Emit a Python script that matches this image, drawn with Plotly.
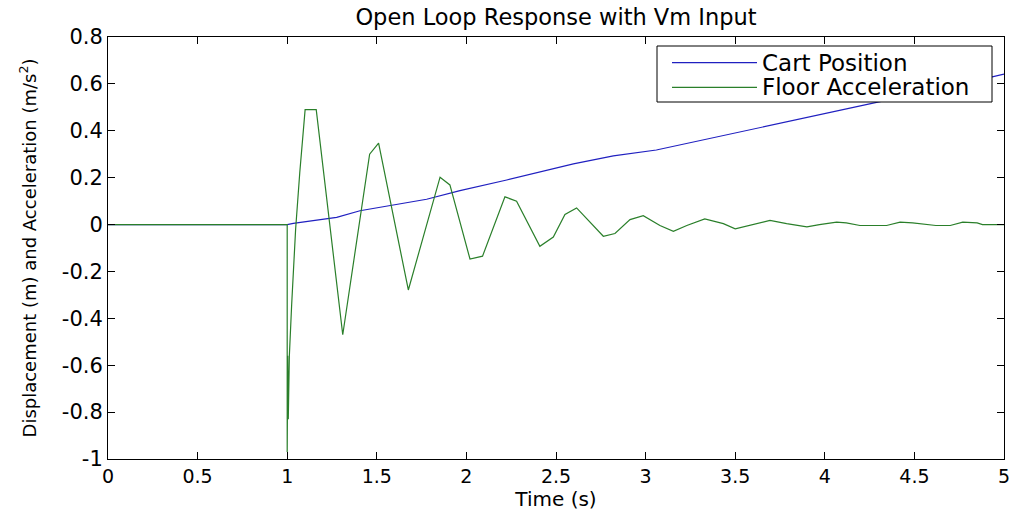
import plotly.graph_objects as go

# Simulation output: cart position (m) and floor acceleration (m/s^2)
time_pos = [0.0, 1.0, 1.034, 1.276, 1.406, 1.592, 1.778, 1.964, 2.225, 2.597,
            2.82, 3.06, 3.5, 4.085, 4.308, 4.94, 5.0]
cart_position = [0.0, 0.0, 0.005, 0.031, 0.059, 0.084, 0.108, 0.145, 0.19, 0.259,
                 0.293, 0.318, 0.39, 0.488, 0.524, 0.631, 0.642]

time_acc = [0.0, 1.0, 1.0, 1.003, 1.006, 1.012, 1.025, 1.035, 1.047, 1.07,
            1.10, 1.162, 1.31, 1.46, 1.51, 1.676, 1.853, 1.908, 2.02, 2.09,
            2.215, 2.28, 2.41, 2.485, 2.55, 2.615, 2.764, 2.829, 2.913, 2.987,
            3.08, 3.155, 3.23, 3.33, 3.434, 3.5, 3.694, 3.787, 3.9, 3.97,
            4.066, 4.12, 4.196, 4.345, 4.42, 4.49, 4.62, 4.70, 4.77, 4.85,
            4.88, 5.0]
floor_acceleration = [0.0, 0.0, -0.97, -0.56, -0.83, -0.56, -0.34, -0.19, -0.02, 0.22,
                      0.49, 0.49, -0.47, 0.30, 0.347, -0.279, 0.202, 0.169, -0.147, -0.135,
                      0.118, 0.10, -0.093, -0.053, 0.043, 0.071, -0.05, -0.038, 0.021, 0.038,
                      -0.004, -0.029, -0.004, 0.024, 0.004, -0.018, 0.018, 0.004, -0.01, 0.0,
                      0.01, 0.007, -0.004, -0.004, 0.01, 0.007, -0.004, -0.004, 0.01, 0.007,
                      0.0, 0.0]

series_names = ["Cart Position", "Floor Acceleration"]
series_colors = ["#2020c0", "#2a7f2a"]

x_ticks = [0, 0.5, 1, 1.5, 2, 2.5, 3, 3.5, 4, 4.5, 5]
x_tick_text = ["0", "0.5", "1", "1.5", "2", "2.5", "3", "3.5", "4", "4.5", "5"]
y_ticks = [0.8, 0.6, 0.4, 0.2, 0, -0.2, -0.4, -0.6, -0.8, -1]
y_tick_text = ["0.8", "0.6", "0.4", "0.2", "0", "-0.2", "-0.4", "-0.6", "-0.8", "-1"]

FONT = "DejaVu Sans, Liberation Sans, Arial, sans-serif"
W, H = 1011, 512
L, R, T, B = 108, 7, 37, 53

fig = go.Figure()
fig.add_trace(go.Scatter(x=time_pos, y=cart_position, mode="lines",
                         name=series_names[0],
                         line=dict(color=series_colors[0], width=1.2)))
fig.add_trace(go.Scatter(x=time_acc, y=floor_acceleration, mode="lines",
                         name=series_names[1],
                         line=dict(color=series_colors[1], width=1.2)))

axis_style = dict(showgrid=False, zeroline=False, showline=True, linecolor="black",
                  linewidth=1, mirror="ticks", ticks="inside", ticklen=7,
                  tickcolor="black", tickwidth=1, automargin=False)

fig.update_xaxes(range=[0, 5], tickvals=x_ticks, ticktext=x_tick_text,
                 tickfont=dict(family=FONT, size=19, color="black"),
                 title=dict(text="Time (s)", font=dict(family=FONT, size=20, color="black"),
                            standoff=6),
                 **axis_style)
fig.update_yaxes(range=[-1, 0.8], tickvals=y_ticks, ticktext=y_tick_text,
                 tickfont=dict(family=FONT, size=21, color="black"),
                 title=dict(text="Displacement (m) and Acceleration (m/s<sup>2</sup>)",
                            font=dict(family=FONT, size=18, color="black"),
                            standoff=20),
                 **axis_style)

# Legend box drawn in paper coordinates (pixel layout converted to fractions)
pw, ph = W - L - R, H - T - B
def px(xp):
    return (xp - L) / pw
def py(yp):
    return (H - B - yp) / ph

shapes = [dict(type="rect", xref="paper", yref="paper",
               x0=px(657), x1=px(992), y0=py(102), y1=py(46),
               line=dict(color="black", width=1), fillcolor="white", layer="above")]
annotations = []
for i, (name, color) in enumerate(zip(series_names, series_colors)):
    row_y = py(62.7 + i * 24.6)
    shapes.append(dict(type="line", xref="paper", yref="paper",
                       x0=px(672), x1=px(757), y0=row_y, y1=row_y,
                       line=dict(color=color, width=1.2), layer="above"))
    annotations.append(dict(xref="paper", yref="paper", x=px(760), y=row_y,
                            text=name, showarrow=False, xanchor="left", yanchor="middle",
                            font=dict(family=FONT, size=23, color="black")))

fig.update_layout(
    width=W, height=H,
    margin=dict(l=L, r=R, t=T, b=B, pad=0, autoexpand=False),
    paper_bgcolor="white", plot_bgcolor="white",
    showlegend=False,
    title=dict(text="Open Loop Response with Vm Input", x=(L + (W - L - R) / 2) / W,
               xanchor="center", y=1 - 17 / H, yanchor="middle",
               font=dict(family=FONT, size=22.5, color="black")),
    shapes=shapes,
    annotations=annotations,
)

fig.write_html("out.html")
